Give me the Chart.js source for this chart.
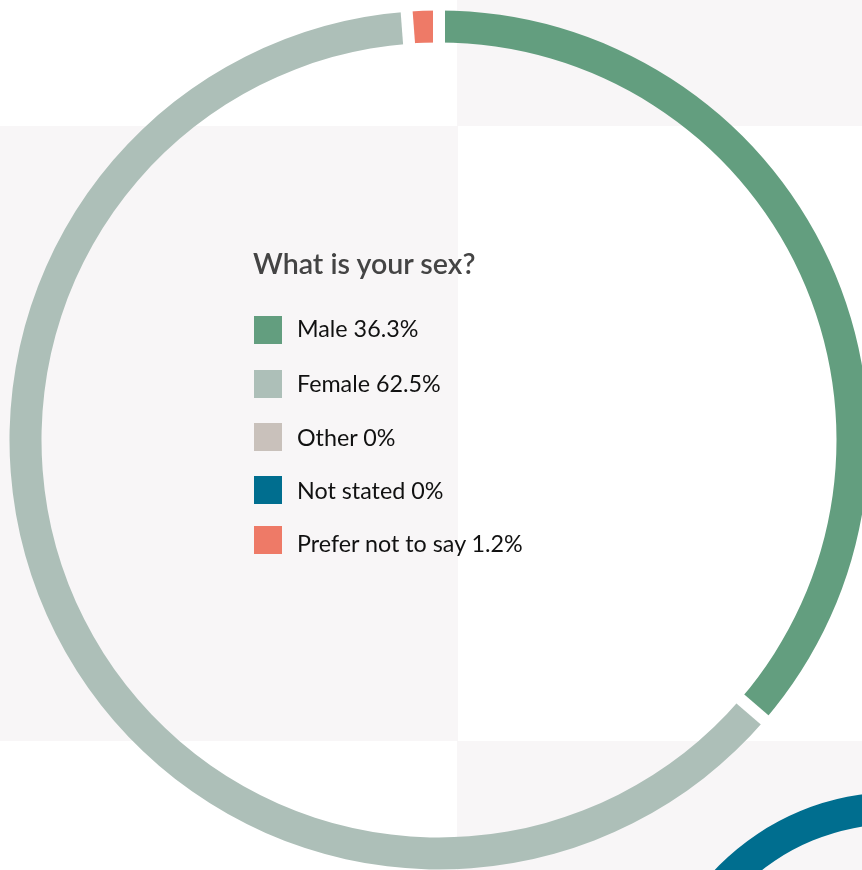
<!DOCTYPE html>
<html>
<head>
<meta charset="utf-8">
<script src="https://cdn.jsdelivr.net/npm/chart.js@4"></script>
<style>
  html, body { margin: 0; padding: 0; width: 862px; height: 870px; overflow: hidden; background: #ffffff; }
  body { position: relative; font-family: Lato, "Open Sans", sans-serif; }
  .panel { position: absolute; background: #f8f6f7; }
  #ringWrap { position: absolute; left: -1.5px; top: -0.5px; width: 880px; height: 880px; }
  #nextWrap { position: absolute; left: 636px; top: 782px; width: 520px; height: 520px; }
  #legend { position: absolute; left: 0; top: 0; width: 862px; height: 870px; pointer-events: none; }
  #title { position: absolute; left: 253px; top: 246px; font-size: 28.6px; font-weight: 600; color: #444444; white-space: nowrap; line-height: normal; }
  .item { position: absolute; left: 254px; height: 28px; white-space: nowrap; }
  .sw { position: absolute; left: 0; top: 0; width: 28px; height: 28px; }
  .lab { position: absolute; left: 43px; top: 0; font-size: 23.3px; line-height: 28px; color: #111111; }
</style>
</head>
<body>
<div class="panel" style="left:457px;top:0;width:405px;height:126px"></div>
<div class="panel" style="left:0;top:126px;width:458px;height:615px"></div>
<div class="panel" style="left:457px;top:741px;width:405px;height:129px"></div>
<div id="nextWrap"><canvas id="next" width="520" height="520"></canvas></div>
<div id="ringWrap"><canvas id="ring" width="880" height="880"></canvas></div>
<div id="legend"><div id="title"></div></div>
<script>
const titleText = "What is your sex?";
const categories = ["Male", "Female", "Other", "Not stated", "Prefer not to say"];
const percentages = [36.3, 62.5, 0, 0, 1.2];
const colors = ["#639e7f", "#adbfb8", "#c9c1bb", "#006e8f", "#ee7a67"];
// partially visible ring of the next chart on the page
const nextChartValues = [100];
const nextChartColors = ["#006e8f"];

// layout (not data)
const legendTops = [316, 370, 423, 476, 526];
const labelShift = [-2.5, -1, 0, 0, 2.5];

// erase a constant-width gap at the start of every visible segment
const segmentGaps = {
  id: "segmentGaps",
  afterDatasetsDraw(chart, args, opts) {
    const meta = chart.getDatasetMeta(0);
    const ctx = chart.ctx;
    ctx.save();
    ctx.globalCompositeOperation = "destination-out";
    ctx.lineWidth = opts.width;
    ctx.lineCap = "butt";
    ctx.strokeStyle = "#000";
    meta.data.forEach(arc => {
      if (!(arc.circumference > 0)) return;
      const a = arc.startAngle;
      const r0 = arc.innerRadius - 2, r1 = arc.outerRadius + 2;
      ctx.beginPath();
      ctx.moveTo(arc.x + Math.cos(a) * r0, arc.y + Math.sin(a) * r0);
      ctx.lineTo(arc.x + Math.cos(a) * r1, arc.y + Math.sin(a) * r1);
      ctx.stroke();
    });
    ctx.restore();
  }
};

new Chart(document.getElementById("ring"), {
  type: "doughnut",
  data: {
    labels: categories,
    datasets: [{
      data: percentages,
      backgroundColor: colors,
      borderWidth: 0
    }]
  },
  options: {
    responsive: false,
    animation: false,
    radius: 429.5,
    cutout: "92.55%",
    layout: { padding: 0 },
    plugins: {
      legend: { display: false },
      tooltip: { enabled: false },
      segmentGaps: { width: 12 }
    }
  },
  plugins: [segmentGaps]
});

new Chart(document.getElementById("next"), {
  type: "doughnut",
  data: {
    labels: ["next"],
    datasets: [{ data: nextChartValues, backgroundColor: nextChartColors, borderWidth: 0 }]
  },
  options: {
    responsive: false,
    animation: false,
    radius: 250,
    cutout: "87.2%",
    layout: { padding: 0 },
    plugins: { legend: { display: false }, tooltip: { enabled: false } }
  }
});

const legend = document.getElementById("legend");
document.getElementById("title").textContent = titleText;
categories.forEach((c, i) => {
  const item = document.createElement("div");
  item.className = "item";
  item.style.top = legendTops[i] + "px";
  const sw = document.createElement("div");
  sw.className = "sw";
  sw.style.background = colors[i];
  const lab = document.createElement("div");
  lab.className = "lab";
  lab.style.top = labelShift[i] + "px";
  lab.textContent = c + " " + percentages[i] + "%";
  item.appendChild(sw);
  item.appendChild(lab);
  legend.appendChild(item);
});
</script>
</body>
</html>
